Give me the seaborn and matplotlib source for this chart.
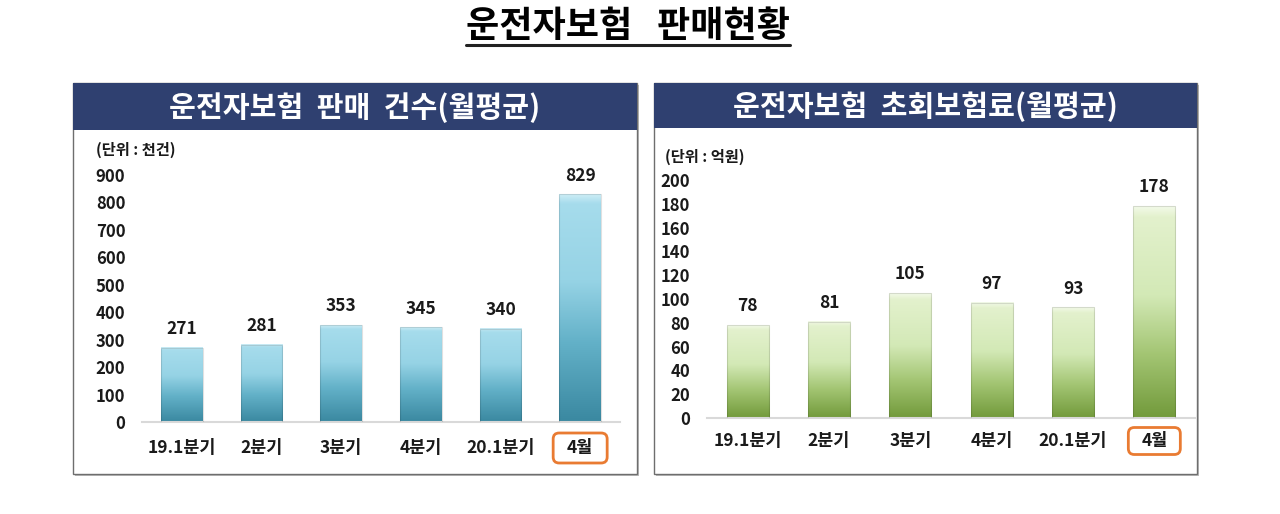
import matplotlib
matplotlib.use('Agg')
import matplotlib.pyplot as plt
import matplotlib.transforms as mtrans
from matplotlib.colors import LinearSegmentedColormap
from matplotlib.patches import Rectangle, FancyBboxPatch
from matplotlib.lines import Line2D
import seaborn as sns
import numpy as np

# data
categories = ['19.1분기', '2분기', '3분기', '4분기', '20.1분기', '4월']
counts = [271, 281, 353, 345, 340, 829]        # 천건
premiums = [78, 81, 105, 97, 93, 178]          # 억원
count_ticks = list(range(0, 901, 100))
premium_ticks = list(range(0, 201, 20))

main_title = '운전자보험   판매현황'
left_title = '운전자보험  판매  건수(월평균)'
right_title = '운전자보험  초회보험료(월평균)'
left_unit = '(단위 : 천건)'
right_unit = '(단위 : 억원)'
highlight = '4월'

sns.set_theme(style='white')
plt.rcParams['font.family'] = ['Noto Sans CJK KR', 'DejaVu Sans']
plt.rcParams['font.weight'] = 'bold'

W, H = 1280, 514
fig = plt.figure(figsize=(W / 100, H / 100), dpi=100)
fig.patch.set_facecolor('white')

navy = '#2F4070'
orange = '#E97B32'

blue_cmap = LinearSegmentedColormap.from_list(
    'blue', [(0, '#3A88A0'), (0.35, '#63B1C8'), (0.62, '#96D3E5'),
             (0.96, '#A6DCEC'), (1.0, '#CDEDF6')])
green_cmap = LinearSegmentedColormap.from_list(
    'green', [(0, '#729A3B'), (0.3, '#A3C573'), (0.58, '#D3E9B6'),
              (0.95, '#E3F1CD'), (1.0, '#F3FAE9')])


def fr(x0, y0, x1, y1):
    # pixel box (top-left origin) -> figure fraction rect
    return [x0 / W, 1 - y1 / H, (x1 - x0) / W, (y1 - y0) / H]


def draw_panel(frame, header_h, axbox, title, unit, unit_xy, values, ticks,
               cmap, xpad, ypad, box_px):
    x0, y0, x1, y1 = frame
    # shadow + frame + header band
    fig.add_artist(Rectangle(((x0 + 2) / W, 1 - (y1 + 2) / H), (x1 - x0) / W, (y1 - y0) / H,
                             transform=fig.transFigure, facecolor='#BBBBBB',
                             edgecolor='none', zorder=0))
    fig.add_artist(Rectangle((x0 / W, 1 - y1 / H), (x1 - x0) / W, (y1 - y0) / H,
                             transform=fig.transFigure, facecolor='white',
                             edgecolor='#6E6E6E', lw=1.0, zorder=0.5))
    fig.add_artist(Rectangle((x0 / W, 1 - (y0 + header_h) / H), (x1 - x0) / W, header_h / H,
                             transform=fig.transFigure, facecolor=navy,
                             edgecolor='none', zorder=0.6))
    fig.text((x0 + x1) / 2 / W, 1 - (y0 + header_h / 2 + 1) / H, title,
             color='white', fontsize=21, ha='center', va='center', weight='bold')
    fig.text(unit_xy[0] / W, 1 - unit_xy[1] / H, unit, fontsize=11,
             ha='left', va='center', weight='bold', color='#1A1A1A', zorder=3)

    ax = fig.add_axes(fr(*axbox))
    ax.set_zorder(2)
    sns.barplot(x=categories, y=values, ax=ax, width=0.52, color='#9ED8EA',
                saturation=1)
    for p in ax.patches:
        bx, bw, bh = p.get_x(), p.get_width(), p.get_height()
        grad = np.linspace(0, 1, 256).reshape(-1, 1)
        ax.imshow(grad, extent=[bx, bx + bw, 0, bh], origin='lower',
                  aspect='auto', cmap=cmap, zorder=2, interpolation='bicubic')
        p.set_facecolor('none')
        p.set_edgecolor((0, 0, 0, 0.12))
        p.set_linewidth(0.8)
        p.set_zorder(3)
    ax.bar_label(ax.containers[0], labels=[str(v) for v in values], padding=7,
                 fontsize=12.5, weight='bold', color='#1A1A1A')
    ax.set_xlim(-0.5, len(categories) - 0.5)
    ax.set_ylim(ticks[0], ticks[-1])
    ax.set_yticks(ticks)
    ax.tick_params(axis='both', length=0, colors='#1A1A1A')
    ax.tick_params(axis='x', pad=xpad, labelsize=12.5)
    ax.tick_params(axis='y', pad=ypad, labelsize=12)
    for lab in ax.get_xticklabels() + ax.get_yticklabels():
        lab.set_fontweight('bold')
    for s in ['top', 'right', 'left']:
        ax.spines[s].set_visible(False)
    ax.spines['bottom'].set_color('#D9D9D9')
    ax.spines['bottom'].set_linewidth(1.5)
    ax.set_xlabel('')
    ax.set_ylabel('')
    ax.patch.set_alpha(0)

    # rounded box around the highlighted category label
    idx = categories.index(highlight)
    cx = ax.transData.transform((idx, 0))[0]
    bw_px, bh_px, cy_px = box_px
    cy = H - cy_px
    fig.add_artist(FancyBboxPatch((cx - bw_px / 2, cy - bh_px / 2), bw_px, bh_px,
                                  boxstyle='round,pad=0,rounding_size=6',
                                  transform=mtrans.IdentityTransform(),
                                  facecolor='none', edgecolor=orange, lw=2.0,
                                  zorder=5))
    return ax


draw_panel((73, 83, 637, 474), 47, (142, 175, 620, 422), left_title, left_unit,
           (96, 150), counts, count_ticks, blue_cmap, 12, 12, (54, 30, 448))
draw_panel((654, 83, 1197, 474), 45, (707, 180, 1195, 418), right_title, right_unit,
           (665, 157), premiums, premium_ticks, green_cmap, 10, 12, (52, 27, 441))

t = fig.text(628 / W, 1 - 27 / H, main_title, fontsize=26, ha='center',
             va='center', weight='bold', color='black')
fig.canvas.draw()
bb = t.get_window_extent().transformed(fig.transFigure.inverted())
fig.add_artist(Line2D([bb.x0, bb.x1], [1 - 45 / H, 1 - 45 / H],
                      transform=fig.transFigure, color='#222222', lw=2.2))

fig.savefig('out.png', dpi=100, facecolor='white')
